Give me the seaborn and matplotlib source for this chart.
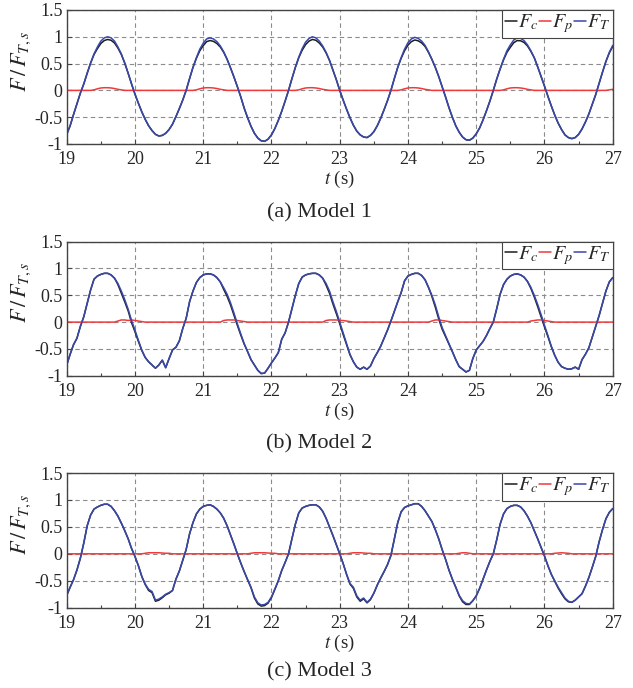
import numpy as np
import pandas as pd
import matplotlib
matplotlib.use("Agg")
import matplotlib.pyplot as plt
import seaborn as sns
from matplotlib.ticker import MultipleLocator

T_START, T_END, N_SAMPLES = 19.0, 27.0, 161
t = np.linspace(T_START, T_END, N_SAMPLES)

# Model 1
ft_m1 = [
    -0.82, -0.66, -0.45, -0.25, -0.05, 0.12, 0.32, 0.51, 0.68, 0.81,
    0.92, 0.98, 1.00, 0.98, 0.92, 0.81, 0.68, 0.51, 0.32, 0.12,
    -0.07, -0.24, -0.40, -0.54, -0.66, -0.75, -0.82, -0.85, -0.84, -0.80,
    -0.73, -0.63, -0.49, -0.34, -0.18, 0.00, 0.22, 0.43, 0.61, 0.77,
    0.88, 0.96, 0.98, 0.96, 0.91, 0.83, 0.72, 0.58, 0.42, 0.25,
    0.07, -0.12, -0.33, -0.51, -0.67, -0.80, -0.89, -0.94, -0.95, -0.91,
    -0.83, -0.71, -0.56, -0.39, -0.20, 0.00, 0.22, 0.43, 0.62, 0.78,
    0.90, 0.97, 1.00, 0.98, 0.92, 0.83, 0.71, 0.56, 0.38, 0.20,
    0.00, -0.18, -0.35, -0.51, -0.65, -0.76, -0.83, -0.87, -0.88, -0.84,
    -0.77, -0.66, -0.52, -0.36, -0.19, 0.00, 0.22, 0.43, 0.61, 0.77,
    0.89, 0.96, 0.99, 0.97, 0.92, 0.84, 0.72, 0.58, 0.43, 0.26,
    0.07, -0.12, -0.32, -0.50, -0.66, -0.78, -0.87, -0.92, -0.93, -0.89,
    -0.81, -0.70, -0.55, -0.38, -0.20, 0.00, 0.21, 0.40, 0.58, 0.74,
    0.85, 0.94, 0.98, 0.97, 0.93, 0.85, 0.74, 0.61, 0.44, 0.26,
    0.08, -0.11, -0.29, -0.46, -0.61, -0.73, -0.83, -0.88, -0.90, -0.88,
    -0.82, -0.72, -0.59, -0.44, -0.26, -0.08, 0.13, 0.34, 0.54, 0.71,
    0.84,
]
fp_m1 = [
    0, 0, 0, 0, 0, 0, 0, 0, 0.01, 0.03,
    0.045, 0.05, 0.05, 0.045, 0.035, 0.02, 0.01, 0, 0, 0,
    0, 0, 0, 0, 0, 0, 0, 0, 0, 0,
    0, 0, 0, 0, 0, 0, 0, 0, 0.01, 0.03,
    0.045, 0.05, 0.05, 0.045, 0.035, 0.02, 0.01, 0, 0, 0,
    0, 0, 0, 0, 0, 0, 0, 0, 0, 0,
    0, 0, 0, 0, 0, 0, 0, 0, 0.01, 0.03,
    0.045, 0.05, 0.05, 0.045, 0.035, 0.02, 0.01, 0, 0, 0,
    0, 0, 0, 0, 0, 0, 0, 0, 0, 0,
    0, 0, 0, 0, 0, 0, 0, 0, 0.01, 0.03,
    0.045, 0.05, 0.05, 0.045, 0.035, 0.02, 0.01, 0, 0, 0,
    0, 0, 0, 0, 0, 0, 0, 0, 0, 0,
    0, 0, 0, 0, 0, 0, 0, 0, 0.01, 0.03,
    0.045, 0.05, 0.05, 0.045, 0.035, 0.02, 0.01, 0, 0, 0,
    0, 0, 0, 0, 0, 0, 0, 0, 0, 0,
    0, 0, 0, 0, 0, 0, 0, 0, 0, 0.01,
    0.02,
]
fc_m1 = [
    -0.82, -0.66, -0.45, -0.25, -0.05, 0.12, 0.32, 0.51, 0.67, 0.78,
    0.875, 0.93, 0.95, 0.935, 0.885, 0.79, 0.67, 0.51, 0.32, 0.12,
    -0.07, -0.24, -0.40, -0.54, -0.66, -0.75, -0.82, -0.85, -0.84, -0.80,
    -0.73, -0.63, -0.49, -0.34, -0.18, 0.00, 0.22, 0.43, 0.60, 0.74,
    0.835, 0.91, 0.93, 0.915, 0.875, 0.81, 0.71, 0.58, 0.42, 0.25,
    0.07, -0.12, -0.33, -0.51, -0.67, -0.80, -0.89, -0.94, -0.95, -0.91,
    -0.83, -0.71, -0.56, -0.39, -0.20, 0.00, 0.22, 0.43, 0.61, 0.75,
    0.855, 0.92, 0.95, 0.935, 0.885, 0.81, 0.70, 0.56, 0.38, 0.20,
    0.00, -0.18, -0.35, -0.51, -0.65, -0.76, -0.83, -0.87, -0.88, -0.84,
    -0.77, -0.66, -0.52, -0.36, -0.19, 0.00, 0.22, 0.43, 0.60, 0.74,
    0.845, 0.91, 0.94, 0.925, 0.885, 0.82, 0.71, 0.58, 0.43, 0.26,
    0.07, -0.12, -0.32, -0.50, -0.66, -0.78, -0.87, -0.92, -0.93, -0.89,
    -0.81, -0.70, -0.55, -0.38, -0.20, 0.00, 0.21, 0.40, 0.57, 0.71,
    0.805, 0.89, 0.93, 0.925, 0.895, 0.83, 0.73, 0.61, 0.44, 0.26,
    0.08, -0.11, -0.29, -0.46, -0.61, -0.73, -0.83, -0.88, -0.90, -0.88,
    -0.82, -0.72, -0.59, -0.44, -0.26, -0.08, 0.13, 0.34, 0.54, 0.70,
    0.82,
]

# Model 2
ft_m2 = [
    -0.80, -0.60, -0.42, -0.30, -0.08, 0.10, 0.35, 0.60, 0.80, 0.86,
    0.89, 0.91, 0.91, 0.88, 0.82, 0.72, 0.58, 0.42, 0.24, 0.03,
    -0.15, -0.34, -0.52, -0.66, -0.74, -0.80, -0.86, -0.80, -0.71, -0.85,
    -0.68, -0.52, -0.47, -0.35, -0.12, 0.07, 0.38, 0.58, 0.74, 0.83,
    0.88, 0.90, 0.90, 0.88, 0.83, 0.75, 0.64, 0.52, 0.36, 0.17,
    -0.03, -0.22, -0.40, -0.55, -0.70, -0.80, -0.90, -0.96, -0.95, -0.86,
    -0.76, -0.67, -0.57, -0.32, -0.20, 0.00, 0.25, 0.50, 0.72, 0.84,
    0.88, 0.90, 0.91, 0.91, 0.88, 0.82, 0.72, 0.58, 0.38, 0.20,
    0.00, -0.20, -0.40, -0.60, -0.74, -0.84, -0.88, -0.84, -0.88, -0.82,
    -0.68, -0.57, -0.45, -0.30, -0.15, 0.02, 0.20, 0.38, 0.55, 0.77,
    0.86, 0.89, 0.91, 0.91, 0.87, 0.79, 0.65, 0.50, 0.32, 0.10,
    -0.10, -0.25, -0.40, -0.55, -0.70, -0.83, -0.88, -0.93, -0.90, -0.68,
    -0.52, -0.44, -0.36, -0.25, -0.12, 0.00, 0.25, 0.52, 0.70, 0.80,
    0.86, 0.89, 0.90, 0.88, 0.84, 0.76, 0.65, 0.50, 0.33, 0.14,
    -0.06, -0.25, -0.45, -0.62, -0.75, -0.83, -0.86, -0.88, -0.87, -0.84,
    -0.88, -0.70, -0.60, -0.48, -0.28, -0.08, 0.12, 0.35, 0.58, 0.75,
    0.83,
]
fp_m2 = [
    0, 0, 0, 0, 0, 0, 0, 0, 0, 0,
    0, 0, 0, 0, 0, 0.02, 0.04, 0.04, 0.03, 0.04,
    0.03, 0.02, 0.01, 0, 0, 0, 0, 0, 0, 0,
    0, 0, 0, 0, 0, 0, 0, 0, 0, 0,
    0, 0, 0, 0, 0, 0, 0.03, 0.04, 0.04, 0.04,
    0.03, 0.02, 0.01, 0, 0, 0, 0, 0, 0, 0,
    0, 0, 0, 0, 0, 0, 0, 0, 0, 0,
    0, 0, 0, 0, 0, 0, 0.03, 0.04, 0.04, 0.04,
    0.03, 0.03, 0.02, 0.01, 0, 0, 0, 0, 0, 0,
    0, 0, 0, 0, 0, 0, 0, 0, 0, 0,
    0, 0, 0, 0, 0, 0, 0, 0.02, 0.04, 0.04,
    0.03, 0.02, 0.01, 0, 0, 0, 0, 0, 0, 0,
    0, 0, 0, 0, 0, 0, 0, 0, 0, 0,
    0, 0, 0, 0, 0, 0, 0.02, 0.03, 0.04, 0.04,
    0.03, 0.02, 0.01, 0, 0, 0, 0, 0, 0, 0,
    0, 0, 0, 0, 0, 0, 0, 0, 0, 0,
    0,
]
fc_m2 = [
    -0.80, -0.60, -0.42, -0.30, -0.08, 0.10, 0.35, 0.60, 0.80, 0.86,
    0.89, 0.91, 0.91, 0.88, 0.82, 0.70, 0.54, 0.38, 0.21, -0.01,
    -0.18, -0.36, -0.53, -0.66, -0.74, -0.80, -0.86, -0.80, -0.71, -0.85,
    -0.68, -0.52, -0.47, -0.35, -0.12, 0.07, 0.38, 0.58, 0.74, 0.83,
    0.88, 0.90, 0.90, 0.88, 0.83, 0.75, 0.61, 0.48, 0.32, 0.13,
    -0.06, -0.24, -0.41, -0.55, -0.70, -0.80, -0.90, -0.96, -0.95, -0.86,
    -0.76, -0.67, -0.57, -0.32, -0.20, 0.00, 0.25, 0.50, 0.72, 0.84,
    0.88, 0.90, 0.91, 0.91, 0.88, 0.82, 0.69, 0.54, 0.34, 0.16,
    -0.03, -0.23, -0.42, -0.61, -0.74, -0.84, -0.88, -0.84, -0.88, -0.82,
    -0.68, -0.57, -0.45, -0.30, -0.15, 0.02, 0.20, 0.38, 0.55, 0.77,
    0.86, 0.89, 0.91, 0.91, 0.87, 0.79, 0.65, 0.48, 0.28, 0.06,
    -0.13, -0.27, -0.41, -0.55, -0.70, -0.83, -0.88, -0.93, -0.90, -0.68,
    -0.52, -0.44, -0.36, -0.25, -0.12, 0.00, 0.25, 0.52, 0.70, 0.80,
    0.86, 0.89, 0.90, 0.88, 0.84, 0.76, 0.63, 0.47, 0.29, 0.10,
    -0.09, -0.27, -0.46, -0.62, -0.75, -0.83, -0.86, -0.88, -0.87, -0.84,
    -0.88, -0.70, -0.60, -0.48, -0.28, -0.08, 0.12, 0.35, 0.58, 0.75,
    0.83,
]

# Model 3
ft_m3 = [
    -0.77, -0.62, -0.48, -0.30, -0.08, 0.20, 0.52, 0.72, 0.83, 0.87,
    0.90, 0.92, 0.92, 0.88, 0.80, 0.70, 0.57, 0.43, 0.28, 0.10,
    -0.05, -0.22, -0.42, -0.56, -0.66, -0.70, -0.86, -0.84, -0.80, -0.75,
    -0.72, -0.68, -0.47, -0.32, -0.12, 0.08, 0.37, 0.58, 0.74, 0.83,
    0.88, 0.90, 0.91, 0.88, 0.83, 0.76, 0.66, 0.52, 0.35, 0.18,
    0.00, -0.17, -0.33, -0.48, -0.62, -0.80, -0.91, -0.95, -0.94, -0.90,
    -0.80, -0.65, -0.50, -0.31, -0.16, 0.00, 0.28, 0.55, 0.76, 0.85,
    0.88, 0.90, 0.91, 0.91, 0.87, 0.79, 0.66, 0.50, 0.34, 0.17,
    0.00, -0.18, -0.38, -0.55, -0.62, -0.78, -0.86, -0.82, -0.90, -0.84,
    -0.73, -0.58, -0.45, -0.33, -0.20, -0.03, 0.28, 0.58, 0.78, 0.86,
    0.89, 0.91, 0.93, 0.93, 0.88, 0.80, 0.70, 0.60, 0.45, 0.28,
    0.08, -0.10, -0.30, -0.47, -0.62, -0.77, -0.87, -0.92, -0.93, -0.87,
    -0.78, -0.64, -0.47, -0.30, -0.14, 0.00, 0.26, 0.55, 0.74, 0.84,
    0.88, 0.90, 0.90, 0.87, 0.80, 0.70, 0.58, 0.43, 0.28, 0.12,
    -0.04, -0.22, -0.38, -0.50, -0.62, -0.72, -0.82, -0.88, -0.90, -0.86,
    -0.80, -0.74, -0.60, -0.44, -0.25, -0.05, 0.22, 0.45, 0.65, 0.77,
    0.84,
]
fp_m3 = [
    0, 0, 0, 0, 0, 0, 0, 0, 0, 0,
    0, 0, 0, 0, 0, 0, 0, 0, 0, 0,
    0, 0, 0, 0.01, 0.02, 0.02, 0.02, 0.02, 0.015, 0.01,
    0.01, 0, 0, 0, 0, 0, 0, 0, 0, 0,
    0, 0, 0, 0, 0, 0, 0, 0, 0, 0,
    0, 0, 0, 0, 0.01, 0.02, 0.02, 0.02, 0.02, 0.015,
    0.01, 0.01, 0, 0, 0, 0, 0, 0, 0, 0,
    0, 0, 0, 0, 0, 0, 0, 0, 0, 0,
    0, 0, 0, 0.01, 0.02, 0.02, 0.02, 0.015, 0.01, 0.01,
    0, 0, 0, 0, 0, 0, 0, 0, 0, 0,
    0, 0, 0, 0, 0, 0, 0, 0, 0, 0,
    0, 0, 0, 0, 0, 0.01, 0.02, 0.02, 0.01, 0,
    0, 0, 0, 0, 0, 0, 0, 0, 0, 0,
    0, 0, 0, 0, 0, 0, 0, 0, 0, 0,
    0, 0, 0, 0.01, 0.015, 0.02, 0.015, 0.01, 0, 0,
    0, 0, 0, 0, 0, 0, 0, 0, 0, 0,
    0,
]
fc_m3 = [
    -0.77, -0.62, -0.48, -0.30, -0.08, 0.20, 0.52, 0.72, 0.83, 0.87,
    0.90, 0.92, 0.92, 0.88, 0.80, 0.70, 0.57, 0.43, 0.28, 0.10,
    -0.05, -0.22, -0.42, -0.57, -0.68, -0.72, -0.88, -0.86, -0.815, -0.76,
    -0.73, -0.68, -0.47, -0.32, -0.12, 0.08, 0.37, 0.58, 0.74, 0.83,
    0.88, 0.90, 0.91, 0.88, 0.83, 0.76, 0.66, 0.52, 0.35, 0.18,
    0.00, -0.17, -0.33, -0.48, -0.63, -0.82, -0.93, -0.97, -0.96, -0.915,
    -0.81, -0.66, -0.50, -0.31, -0.16, 0.00, 0.28, 0.55, 0.76, 0.85,
    0.88, 0.90, 0.91, 0.91, 0.87, 0.79, 0.66, 0.50, 0.34, 0.17,
    0.00, -0.18, -0.38, -0.56, -0.64, -0.80, -0.88, -0.835, -0.91, -0.85,
    -0.73, -0.58, -0.45, -0.33, -0.20, -0.03, 0.28, 0.58, 0.78, 0.86,
    0.89, 0.91, 0.93, 0.93, 0.88, 0.80, 0.70, 0.60, 0.45, 0.28,
    0.08, -0.10, -0.30, -0.47, -0.62, -0.78, -0.89, -0.94, -0.94, -0.87,
    -0.78, -0.64, -0.47, -0.30, -0.14, 0.00, 0.26, 0.55, 0.74, 0.84,
    0.88, 0.90, 0.90, 0.87, 0.80, 0.70, 0.58, 0.43, 0.28, 0.12,
    -0.04, -0.22, -0.38, -0.51, -0.635, -0.74, -0.835, -0.89, -0.90, -0.86,
    -0.80, -0.74, -0.60, -0.44, -0.25, -0.05, 0.22, 0.45, 0.65, 0.77,
    0.84,
]

captions = ["(a) Model 1", "(b) Model 2", "(c) Model 3"]
x_ticks = [19, 20, 21, 22, 23, 24, 25, 26, 27]
y_ticks = [-1, -0.5, 0, 0.5, 1, 1.5]
y_ticklabels = ["-1", "-0.5", "0", "0.5", "1", "1.5"]

# --- Style ---
sns.set_theme(style="ticks")
plt.rcParams['font.family'] = ['Liberation Serif', 'DejaVu Serif']
plt.rcParams['mathtext.fontset'] = 'stix'

C_FC, C_FP, C_FT = '#1c1c1c', '#f0393a', '#3848ad'

fig = plt.figure(figsize=(6.33, 6.88), dpi=100)

# axes boxes [left, bottom, width, height] and caption centre y (figure fraction)
boxes = [
    ([0.1054, 0.7907, 0.8626, 0.1948], 0.690),
    ([0.1054, 0.4539, 0.8626, 0.1948], 0.3547),
    ([0.1054, 0.1167, 0.8626, 0.1958], 0.0233),
]
series = [(fc_m1, fp_m1, ft_m1), (fc_m2, fp_m2, ft_m2), (fc_m3, fp_m3, ft_m3)]

for (box, cap_y), (fc, fp, ft), cap in zip(boxes, series, captions):
    ax = fig.add_axes(box)
    df = pd.DataFrame({'t': t, 'Fc': fc, 'Fp': fp, 'FT': ft})
    sns.lineplot(data=df, x='t', y='Fc', ax=ax, color=C_FC, lw=1.1, label=r'$F_c$')
    sns.lineplot(data=df, x='t', y='Fp', ax=ax, color=C_FP, lw=1.1, label=r'$F_p$')
    sns.lineplot(data=df, x='t', y='FT', ax=ax, color=C_FT, lw=1.1, label=r'$F_T$')

    ax.set_xlim(19, 27)
    ax.set_ylim(-1, 1.5)
    ax.set_xticks(x_ticks)
    ax.set_xticklabels([str(v) for v in x_ticks])
    ax.set_yticks(y_ticks)
    ax.set_yticklabels(y_ticklabels)
    ax.xaxis.set_minor_locator(MultipleLocator(0.5))
    ax.grid(True, which='major', ls=(0, (4, 3)), color='#8c8c8c', lw=0.8)
    ax.tick_params(which='major', direction='in', length=3.5, width=0.8,
                   labelsize=13, color='#444444')
    ax.tick_params(axis='x', which='major', pad=5)
    ax.tick_params(axis='y', which='major', pad=3)
    ax.tick_params(which='minor', direction='in', length=2, width=0.8,
                   color='#444444')
    for s in ax.spines.values():
        s.set_color('#444444')
        s.set_linewidth(1.0)

    ax.set_xlabel(r'$t$ (s)', fontsize=13.5, labelpad=1)
    ax.set_ylabel(r'$F\,/\,F_{T,s}$', fontsize=16)
    ax.yaxis.set_label_coords(-0.062, 0.62)

    leg = ax.legend(loc='upper right', ncol=3, frameon=True, fancybox=False,
                    borderaxespad=0, handlelength=0.6, handletextpad=0.05,
                    columnspacing=0.05, borderpad=0.12, fontsize=14.5)
    leg.get_frame().set_edgecolor('#444444')
    leg.get_frame().set_linewidth(0.8)
    leg.get_frame().set_alpha(1)

    fig.text(0.504, cap_y, cap, ha='center', va='center', fontsize=16)

fig.savefig('out.png', dpi=100)
